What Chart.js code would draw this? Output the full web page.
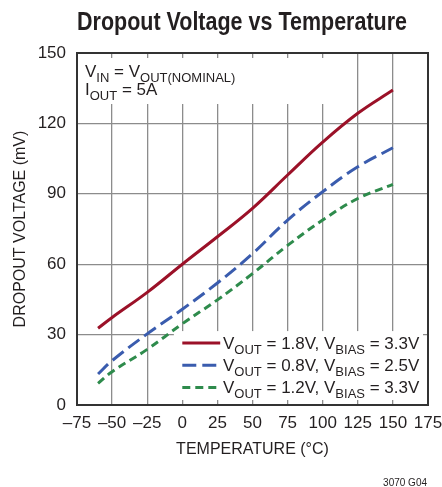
<!DOCTYPE html>
<html>
<head>
<meta charset="utf-8">
<script src="https://cdn.jsdelivr.net/npm/chart.js@4"></script>
<style>
  body { margin: 0; background: #fff; }
  #wrap { width: 442px; height: 487px; }
</style>
</head>
<body>
<div id="wrap"><canvas id="dropout-chart" width="442" height="487"></canvas></div>
<script>
// values
var temperatures = [-60, -50, -25, 0, 25, 50, 75, 100, 125, 150];
var vout18 = [32.7, 37.3, 48.0, 60.0, 71.7, 83.8, 98.0, 112.0, 124.3, 134.2];
var vout08 = [13.2, 18.9, 30.3, 40.8, 52.0, 64.5, 78.8, 90.9, 101.5, 109.6];
var vout12 = [9.2, 14.2, 23.7, 34.6, 44.8, 56.0, 68.0, 78.8, 88.0, 94.0];

var xTickValues = [-75, -50, -25, 0, 25, 50, 75, 100, 125, 150, 175];
var xTickLabels = ['\u201375', '\u201350', '\u201325', '0', '25', '50', '75', '100', '125', '150', '175'];

var titleText = 'Dropout Voltage vs Temperature';
var seriesLabels = ['V_{OUT} = 1.8V, V_{BIAS} = 3.3V', 'V_{OUT} = 0.8V, V_{BIAS} = 2.5V', 'V_{OUT} = 1.2V, V_{BIAS} = 3.3V'];
var conditionLines = ['V_{IN} = V_{OUT(NOMINAL)}', 'I_{OUT} = 5A'];

var FONT = "'Liberation Sans', Arial, sans-serif";
var TEXT = '#231f20';

function points(values) {
    return values.map(function(v, i) { return {x: temperatures[i], y: v}; });
}

// draw text with V_{SUB} style subscripts, returns width
function drawRich(ctx, str, x, y, size) {
    var parts = str.split(/_\{([^}]*)\}/);
    var cx = x;
    for (var i = 0; i < parts.length; i++) {
        if (!parts[i]) continue;
        var sub = i % 2 === 1;
        ctx.font = (sub ? Math.round(size * 0.78) : size) + 'px ' + FONT;
        ctx.fillText(parts[i], cx, sub ? y + size * 0.27 : y);
        cx += ctx.measureText(parts[i]).width;
    }
    return cx - x;
}

var overlayPlugin = {
    id: 'overlay',
    beforeDatasetsDraw: function(chart) {
        var ctx = chart.ctx;
        var a = chart.chartArea;
        var xs = chart.scales.x, ys = chart.scales.y;
        ctx.save();
        ctx.fillStyle = '#fff';
        // box behind the test conditions (keeps the short ticks on the top edge)
        ctx.fillRect(a.left + 1, a.top + 5, xs.getPixelForValue(112) - a.left - 1, 46);
        // box behind the legend (keeps ticks on right and bottom edges)
        var lx = xs.getPixelForValue(-6);
        var ly = ys.getPixelForValue(31.5);
        ctx.fillRect(lx, ly, a.right - 5 - lx, a.bottom - 5 - ly);

        ctx.fillStyle = TEXT;
        ctx.textBaseline = 'alphabetic';
        ctx.textAlign = 'left';
        conditionLines.forEach(function(t, i) {
            drawRich(ctx, t, a.left + 8, a.top + 24 + i * 18, 17);
        });

        chart.data.datasets.forEach(function(ds, i) {
            var base = ly + 18 + i * 22.2;
            ctx.strokeStyle = ds.borderColor;
            ctx.lineWidth = ds.borderWidth;
            ctx.setLineDash(ds.borderDash || []);
            ctx.beginPath();
            ctx.moveTo(xs.getPixelForValue(0), base - 6);
            ctx.lineTo(xs.getPixelForValue(27), base - 6);
            ctx.stroke();
            ctx.setLineDash([]);
            ctx.fillStyle = TEXT;
            drawRich(ctx, ds.label, xs.getPixelForValue(29), base, 17);
        });
        ctx.restore();
    },
    afterDraw: function(chart) {
        var ctx = chart.ctx;
        var a = chart.chartArea;
        ctx.save();
        ctx.strokeStyle = '#333';
        ctx.lineWidth = 2;
        ctx.strokeRect(a.left, a.top, a.right - a.left, a.bottom - a.top);

        // condensed bold title
        ctx.fillStyle = TEXT;
        ctx.font = 'bold 25px ' + FONT;
        ctx.textAlign = 'center';
        var w = ctx.measureText(titleText).width;
        ctx.translate(242, 30);
        ctx.scale(330 / w, 1);
        ctx.fillText(titleText, 0, 0);
        ctx.restore();

        ctx.save();
        ctx.fillStyle = TEXT;
        ctx.font = '10px ' + FONT;
        ctx.textAlign = 'right';
        ctx.fillText('3070 G04', 427, 486);
        ctx.restore();
    }
};

var ctx = document.getElementById('dropout-chart').getContext('2d');
var chart = new Chart(ctx, {
    type: 'line',
    data: {
        datasets: [{
            label: seriesLabels[0],
            data: points(vout18),
            borderColor: '#9b1128',
            borderWidth: 3
        }, {
            label: seriesLabels[1],
            data: points(vout08),
            borderColor: '#3a5cae',
            borderWidth: 3,
            borderDash: [14, 6]
        }, {
            label: seriesLabels[2],
            data: points(vout12),
            borderColor: '#2e8b4c',
            borderWidth: 3,
            borderDash: [8, 5]
        }]
    },
    options: {
        responsive: false,
        animation: false,
        events: [],
        layout: { padding: { left: 0, right: 0, top: 53, bottom: 0 } },
        elements: {
            point: { radius: 0 },
            line: { tension: 0.4, fill: false }
        },
        plugins: {
            legend: { display: false },
            tooltip: { enabled: false },
            title: { display: false }
        },
        scales: {
            x: {
                type: 'linear',
                min: -75,
                max: 175,
                afterFit: function(scale) {
                    scale.height = 82;
                    scale.paddingRight = 14;
                    scale.paddingLeft = 0;
                },
                afterBuildTicks: function(scale) {
                    scale.ticks = xTickValues.map(function(v) { return {value: v}; });
                },
                ticks: {
                    color: TEXT,
                    font: { family: FONT, size: 17 },
                    padding: 8,
                    maxRotation: 0,
                    autoSkip: false,
                    callback: function(v) { return xTickLabels[xTickValues.indexOf(v)]; }
                },
                grid: { color: '#8c8c8c', lineWidth: 1.3, drawTicks: false },
                border: { display: false },
                title: {
                    display: true,
                    text: 'TEMPERATURE (\u00B0C)',
                    color: TEXT,
                    font: { family: FONT, size: 16 },
                    padding: { top: 0, bottom: 28 }
                }
            },
            y: {
                min: 0,
                max: 150,
                afterFit: function(scale) { scale.width = 77; },
                ticks: {
                    stepSize: 30,
                    color: TEXT,
                    font: { family: FONT, size: 17 },
                    padding: 11
                },
                grid: { color: '#8c8c8c', lineWidth: 1.3, drawTicks: false },
                border: { display: false },
                title: {
                    display: true,
                    text: 'DROPOUT VOLTAGE (mV)',
                    color: TEXT,
                    font: { family: FONT, size: 16 },
                    padding: { top: 11, bottom: 0 }
                }
            }
        }
    },
    plugins: [overlayPlugin]
});
</script>
</body>
</html>
